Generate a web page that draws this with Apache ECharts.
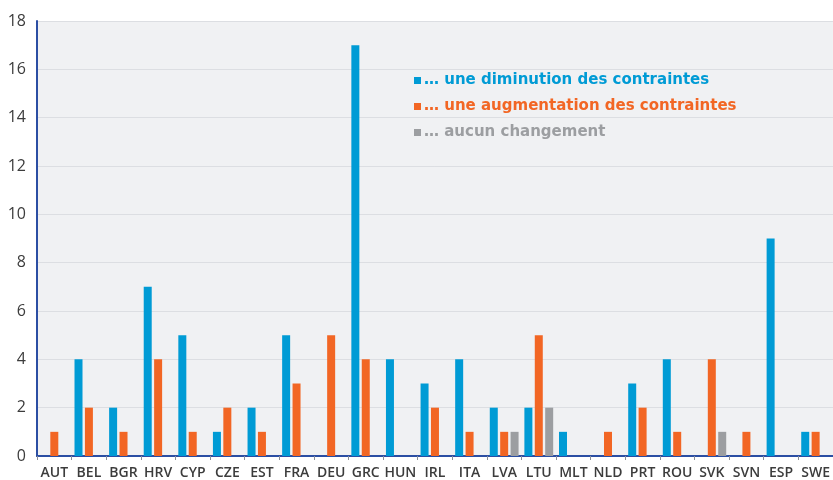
<!DOCTYPE html>
<html>
<head>
<meta charset="utf-8">
<script src="https://cdn.jsdelivr.net/npm/echarts@6/dist/echarts.min.js"></script>
<style>
  html, body { margin: 0; padding: 0; background: #fff; }
  #chart { width: 833px; height: 480px; }
</style>
</head>
<body>
<div id="chart"></div>
<script>
// pays
var countries = ['AUT', 'BEL', 'BGR', 'HRV', 'CYP', 'CZE', 'EST', 'FRA', 'DEU', 'GRC', 'HUN', 'IRL',
  'ITA', 'LVA', 'LTU', 'MLT', 'NLD', 'PRT', 'ROU', 'SVK', 'SVN', 'ESP', 'SWE'];

// nombre de mesures
var diminution   = [0, 4, 2, 7, 5, 1, 2, 5, 0, 17, 4, 3, 4, 2, 2, 1, 0, 3, 4, 0, 0, 9, 1];
var augmentation = [1, 2, 1, 4, 1, 2, 1, 3, 5, 4, 0, 2, 1, 1, 5, 0, 1, 2, 1, 4, 1, 0, 1];
var aucun        = [0, 0, 0, 0, 0, 0, 0, 0, 0, 0, 0, 0, 0, 1, 2, 0, 0, 0, 0, 1, 0, 0, 0];

var yTicks = { min: 0, max: 18, interval: 2 };

var names = ['… une diminution des contraintes', '… une augmentation des contraintes', '… aucun changement'];
var colors = ['#009bd5', '#f26624', '#9c9ea1'];

var chart = echarts.init(document.getElementById('chart'));

function bar(i, data) {
  return {
    name: names[i],
    type: 'bar',
    data: data,
    barWidth: 8,
    barGap: '30%',
    itemStyle: { color: colors[i] }
  };
}

var option = {
  animation: false,
  textStyle: { fontFamily: 'Open Sans' },
  grid: {
    left: 37, right: 0, top: 21, bottom: 23,
    show: true, backgroundColor: '#f0f1f3', borderWidth: 0
  },
  legend: {
    orient: 'vertical',
    left: 409,
    top: 68,
    itemWidth: 7,
    itemHeight: 7,
    itemGap: 11,
    icon: 'rect',
    data: names.map(function (n, i) {
      return { name: n, textStyle: { color: colors[i] } };
    }),
    textStyle: { fontFamily: 'DejaVu Sans', fontSize: 15, fontWeight: 'bold', padding: [0, 0, 0, -2] }
  },
  xAxis: {
    type: 'category',
    data: countries,
    axisLine: { lineStyle: { color: '#2b4ea3', width: 2 } },
    axisTick: { show: true, length: 4, lineStyle: { color: '#8a8f99' } },
    axisLabel: { interval: 0, fontSize: 14, fontWeight: 600, color: '#3c3c3c', margin: 10 }
  },
  yAxis: {
    type: 'value',
    min: yTicks.min,
    max: yTicks.max,
    interval: yTicks.interval,
    axisLine: { show: true, lineStyle: { color: '#2b4ea3', width: 2 } },
    axisTick: { show: false },
    axisLabel: { fontSize: 16, color: '#3c3c3c', margin: 11 },
    splitLine: { lineStyle: { color: '#dcdee2', width: 1 } }
  },
  series: [bar(0, diminution), bar(1, augmentation), bar(2, aucun)]
};

chart.setOption(option);
</script>
</body>
</html>
